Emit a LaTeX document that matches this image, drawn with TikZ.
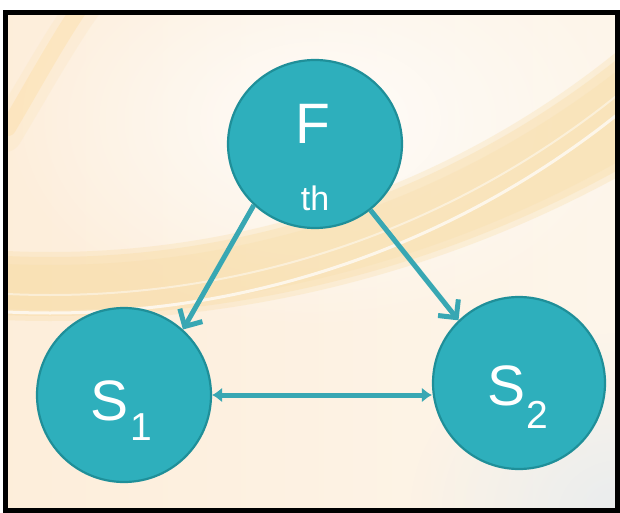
\documentclass[tikz,border=0pt]{standalone}
\usepackage{fontspec}
\setmainfont{Liberation Sans}
\usetikzlibrary{arrows.meta,fadings,shapes.geometric}
\definecolor{bgbase}{HTML}{FDF3E4}
\definecolor{bandc}{HTML}{F9DCA4}
\definecolor{streakc}{HTML}{FCDB9E}
\definecolor{tealfill}{HTML}{2EAFBC}
\definecolor{tealdraw}{HTML}{1F8F99}
\definecolor{arrowc}{HTML}{38A7B3}
\definecolor{greyc}{HTML}{E8ECEE}
\tikzfading[name=glow, inner color=transparent!0, outer color=transparent!100]
\tikzset{
  statenode/.style={ellipse, fill=tealfill, draw=tealdraw, line width=2.2pt, inner sep=0pt},
  bigtxt/.style={text=white, font=\fontsize{57}{57}\selectfont, anchor=base, inner sep=0pt},
  subtxt/.style={text=white, font=\fontsize{39}{39}\selectfont, anchor=base, inner sep=0pt},
  thtxt/.style={text=white, font=\fontsize{34}{34}\selectfont, anchor=base, inner sep=0pt},
  link/.style={draw=arrowc, line width=5pt, -{Straight Barb[length=13pt,width=26pt]}},
  dtip/.tip={Latex[length=10pt,width=15pt]},
  dlink/.style={draw=arrowc, line width=5pt, dtip-dtip},
}
\begin{document}
\begin{tikzpicture}[x=1pt,y=-1pt]
\useasboundingbox (0,0) rectangle (620,513);
\fill[white] (0,0) rectangle (620,513);
\begin{scope}
  \clip (7,14) rectangle (616,509);
  \fill[bgbase] (0,0) rectangle (620,513);
  \shade[left color=orange!25, right color=white, opacity=0.25] (0,0) rectangle (620,513);
  \fill[white, path fading=glow, opacity=0.8] (320,120) ellipse (320 and 210);
  \fill[greyc, path fading=glow, opacity=0.95] (620,513) ellipse (210 and 180);
  % main curved band (crescent between two circles)
  \fill[bandc, even odd rule, opacity=0.30] (50,-869) circle (1190) (50,-650) circle (902);
  \fill[bandc, even odd rule, opacity=0.35] (50,-860) circle (1176) (50,-655) circle (912);
  \fill[bandc, even odd rule, opacity=0.25] (50,-850) circle (1160) (50,-660) circle (925);
  % white highlight lines in the band
  \draw[white, line width=3pt, opacity=0.7] (50,-597) circle (910);
  \draw[white, line width=2pt, opacity=0.45] (50,-610) circle (905);
  % faint upper-left streak
  \draw[streakc, line width=34pt, opacity=0.15, line cap=round] (85,5) .. controls (60,40) and (35,85) .. (5,135);
  \draw[streakc, line width=16pt, opacity=0.35, line cap=round] (82,5) .. controls (58,40) and (35,82) .. (8,128);
\end{scope}
\draw[black, line width=4.5pt] (5.5,12.5) rectangle (617.5,510.5);

\node[statenode, minimum width=174pt, minimum height=168pt] (f) at (315,144) {};
\node[statenode, minimum width=174pt, minimum height=174pt] (s1) at (124,395) {};
\node[statenode, minimum width=172pt, minimum height=172pt] (s2) at (519,383) {};

\node[bigtxt] (ft) at (313,143) {F};
\node[thtxt] (tht) at (315,210) {th};
\node[bigtxt] (s1t) at (110,420) {S};
\node[subtxt] (s1s) at (141,440) {1};
\node[bigtxt] (s2t) at (506,405) {S};
\node[subtxt] (s2s) at (537,428) {2};

\draw[link] (f.225) -- (s1.48);
\draw[link] (f.310) -- (s2.134);
\draw[dlink] (s1.east) -- (s1.east -| s2.west);
\end{tikzpicture}
\end{document}
